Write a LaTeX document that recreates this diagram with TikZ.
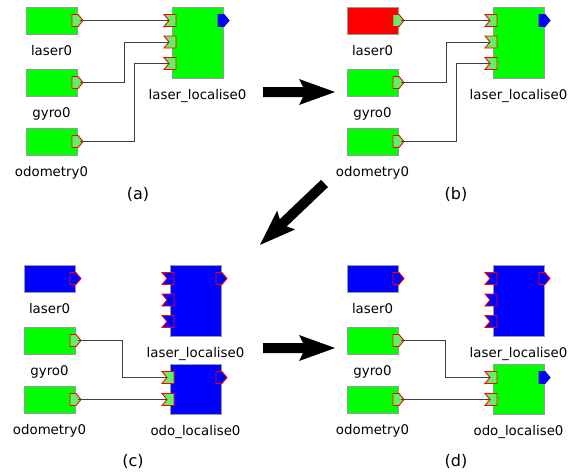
\documentclass[tikz,border=0pt]{standalone}
\usepackage{fontspec}
\setmainfont{DejaVu Sans}
\usetikzlibrary{calc}

\definecolor{boxgreen}{HTML}{00FF00}
\definecolor{boxblue}{HTML}{0000FF}
\definecolor{boxred}{HTML}{FF0000}
\definecolor{portgreen}{HTML}{66EE66}
\definecolor{framegray}{HTML}{9A9A9A}
\definecolor{wiregray}{HTML}{404040}

\tikzset{
  comp/.style={draw=framegray, line width=1pt, anchor=north west,
    minimum width=51pt, inner sep=0pt, outer sep=0pt},
  src/.style={comp, minimum height=27pt},
  lbl/.style={anchor=base, font=\fontsize{13.33}{16}\selectfont, inner sep=0pt},
  caption/.style={anchor=base, font=\fontsize{16}{19}\selectfont, inner sep=0pt},
  portline/.style={line width=0.9pt},
  wireline/.style={draw=wiregray, line width=1pt},
}

% output port: pentagon on the right edge of a block; #4 is where a wire starts
\newcommand\outport[4]{%
  \filldraw[portline, fill=#2, draw=#3] ($#1+(-5,-6)$) -- ++(6,0) -- ++(5,6)
    -- ++(-5,6) -- ++(-6,0) -- cycle;
  \coordinate (#4) at ($#1+(3,0)$);}

% input port: notched tab on the left edge of a block; #4 is where a wire ends
\newcommand\inport[4]{%
  \filldraw[portline, fill=#2, draw=#3] ($#1+(-8,-6)$) -- ++(12,0) -- ++(0,12)
    -- ++(-12,0) -- ++(5,-6) -- cycle;
  \coordinate (#4) at ($#1+(-3,0)$);}

% the three source blocks: prefix, laser0 fill, laser0 port fill
\newcommand\sources[3]{%
  \node[src, fill=#2] (#1-laser) at (26,7) {};
  \node[src, fill=boxgreen] (#1-gyro) at (26,69) {};
  \node[src, fill=boxgreen] (#1-odo) at (26,128) {};
  \node[lbl] (#1-laser-l) at ($(#1-laser.south)+(0,21)$) {laser0};
  \node[lbl] (#1-gyro-l) at ($(#1-gyro.south)+(0,21)$) {gyro0};
  \node[lbl] (#1-odo-l) at ($(#1-odo.south)+(0,21)$) {odometry0};
  \outport{(#1-laser.east)}{#3}{boxred}{#1-laser-o}
  \outport{(#1-gyro.east)}{portgreen}{boxred}{#1-gyro-o}
  \outport{(#1-odo.east)}{portgreen}{boxred}{#1-odo-o}}

% laser_localise0: prefix, fill, input fill, output fill, output border
\newcommand\laserloc[5]{%
  \node[comp, fill=#2, minimum height=71pt] (#1-ll) at (172,7) {};
  \node[lbl] (#1-ll-l) at ($(#1-ll.south)+(0,21)$) {laser\_localise0};
  \foreach \k/\dy in {1/13.5, 2/35, 3/56.5} {
    \coordinate (#1-ll-p\k) at ($(#1-ll.north west)+(0,\dy)$);
    \inport{(#1-ll-p\k)}{#3}{boxred}{#1-ll-i\k}}
  \coordinate (#1-ll-q) at ($(#1-ll.north east)+(0,13.5)$);
  \outport{(#1-ll-q)}{#4}{#5}{#1-ll-o}}

% odo_localise0: prefix, fill, output fill, output border
\newcommand\odoloc[4]{%
  \node[comp, fill=#2, minimum height=50pt] (#1-ol) at (172,106) {};
  \node[lbl] (#1-ol-l) at ($(#1-ol.south)+(0,21)$) {odo\_localise0};
  \foreach \k/\dy in {1/13.5, 2/35.5} {
    \coordinate (#1-ol-p\k) at ($(#1-ol.north west)+(0,\dy)$);
    \inport{(#1-ol-p\k)}{portgreen}{boxred}{#1-ol-i\k}}
  \coordinate (#1-ol-q) at ($(#1-ol.north east)+(0,13.5)$);
  \outport{(#1-ol-q)}{#3}{#4}{#1-ol-o}}

% thick block arrow: tail coordinate, length, direction angle
\newcommand\blockarrow[3]{%
  \fill[black, shift={#1}, rotate=#3] (0,-5) -- ({#2-32},-5) -- ({#2-36},-13)
    -- (#2,0) -- ({#2-36},13) -- ({#2-32},5) -- (0,5) -- cycle;}

\begin{document}
\begin{tikzpicture}[x=1pt, y=-1pt]
  \fill[white] (0,0) rectangle (569,474);
  \useasboundingbox (0,0) rectangle (569,474);

  % (a) all sources running
  \begin{scope}
    \sources{a}{boxgreen}{portgreen}
    \laserloc{a}{boxgreen}{portgreen}{boxblue}{boxblue}
    \draw[wireline] (a-laser-o) -- (a-ll-i1);
    \draw[wireline] (a-gyro-o) -- ++(44,0) |- (a-ll-i2);
    \draw[wireline] (a-odo-o) -- ++(54,0) |- (a-ll-i3);
  \end{scope}

  % (b) laser0 fails
  \begin{scope}[shift={(321,0)}]
    \sources{b}{boxred}{portgreen}
    \laserloc{b}{boxgreen}{portgreen}{boxblue}{boxblue}
    \draw[wireline] (b-laser-o) -- (b-ll-i1);
    \draw[wireline] (b-gyro-o) -- ++(45,0) |- (b-ll-i2);
    \draw[wireline] (b-odo-o) -- ++(55,0) |- (b-ll-i3);
  \end{scope}

  % (c) odo_localise0 takes over
  \begin{scope}[shift={(-2,258)}]
    \sources{c}{boxblue}{boxblue}
    \laserloc{c}{boxblue}{boxblue}{boxblue}{boxred}
    \odoloc{c}{boxblue}{boxblue}{boxred}
    \draw[wireline] (c-gyro-o) -- ++(44,0) |- (c-ol-i1);
    \draw[wireline] (c-odo-o) -- (c-ol-i2);
  \end{scope}

  % (d) odo_localise0 running
  \begin{scope}[shift={(321,258)}]
    \sources{d}{boxblue}{boxblue}
    \laserloc{d}{boxblue}{boxblue}{boxblue}{boxred}
    \odoloc{d}{boxgreen}{boxblue}{boxblue}
    \draw[wireline] (d-gyro-o) -- ++(44,0) |- (d-ol-i1);
    \draw[wireline] (d-odo-o) -- (d-ol-i2);
  \end{scope}

  % panel captions
  \node[caption] (cap-a) at (138,199) {(a)};
  \node[caption] (cap-b) at (456,199) {(b)};
  \node[caption] (cap-c) at (133,466) {(c)};
  \node[caption] (cap-d) at (456,466) {(d)};

  % transition arrows
  \coordinate (step-ab) at (263,92);
  \coordinate (step-bc) at (324.5,183.5);
  \coordinate (step-cd) at (263,348);
  \blockarrow{(step-ab)}{72}{0}
  \blockarrow{(step-bc)}{89}{223.6}
  \blockarrow{(step-cd)}{72}{0}
\end{tikzpicture}
\end{document}
